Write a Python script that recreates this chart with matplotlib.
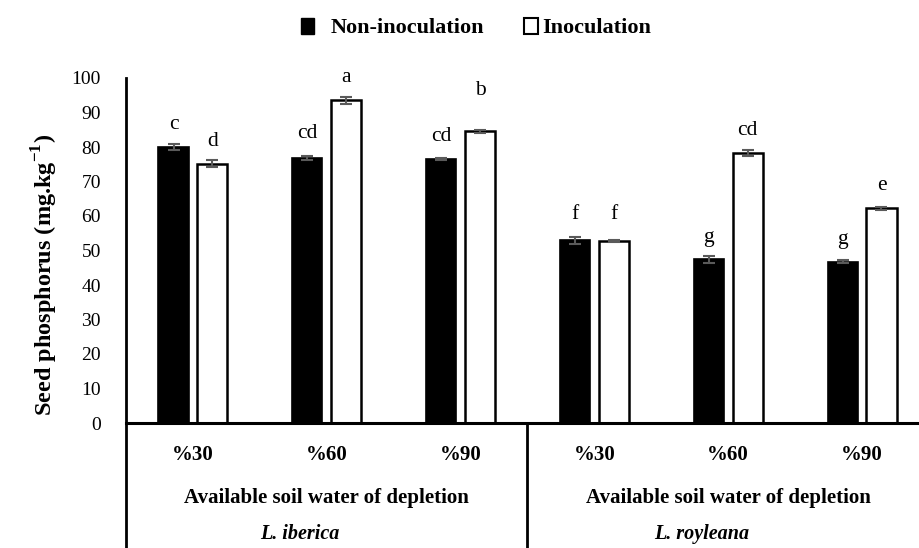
import matplotlib.pyplot as plt
from matplotlib.patches import Patch

plt.rcParams['font.family'] = ['Liberation Serif', 'DejaVu Serif']

# data
levels = ['%30', '%60', '%90', '%30', '%60', '%90']
species = ['L. iberica', 'L. royleana']
group_label = 'Available soil water of depletion'

non_inoc = [80.1, 76.8, 76.5, 53.0, 47.4, 46.8]
non_inoc_err = [0.9, 0.5, 0.4, 1.0, 1.0, 0.4]
inoc = [75.1, 93.6, 84.5, 52.8, 78.3, 62.2]
inoc_err = [1.0, 1.0, 0.5, 0.3, 0.9, 0.5]

non_letters = ['c', 'cd', 'cd', 'f', 'g', 'g']
inoc_letters = ['d', 'a', 'b', 'f', 'cd', 'e']
# extra lift of the letters above the bars (hand placed in the original)
non_lift = [6.5, 7.0, 6.5, 7.5, 6.5, 6.5]
inoc_lift = [6.5, 6.5, 12.0, 7.5, 6.5, 6.5]

fig = plt.figure(figsize=(9.2, 5.48), dpi=100)
ax = fig.add_axes([126 / 920, 1 - 423 / 548, 803 / 920, 345 / 548])

x = list(range(len(levels)))
w = 0.225
off = 0.145
xb = [i - off for i in x]
xw = [i + off for i in x]

ax.bar(xb, non_inoc, w, color='black', edgecolor='black', linewidth=1.2)
ax.bar(xw, inoc, w, color='white', edgecolor='black', linewidth=1.8)
ax.errorbar(xb, non_inoc, yerr=non_inoc_err, fmt='none', ecolor='#5a5a5a',
            elinewidth=1.5, capsize=4.5, capthick=1.5)
ax.errorbar(xw, inoc, yerr=inoc_err, fmt='none', ecolor='#5a5a5a',
            elinewidth=1.5, capsize=4.5, capthick=1.5)

for i in x:
    ax.text(xb[i], non_inoc[i] + non_lift[i], non_letters[i], ha='center',
            va='center', fontsize=15.5)
    ax.text(xw[i], inoc[i] + inoc_lift[i], inoc_letters[i], ha='center',
            va='center', fontsize=15.5)

ax.set_xlim(-0.5, 5.5)
ax.set_ylim(0, 100)
ax.set_yticks(range(0, 101, 10))
ax.tick_params(axis='y', length=0, pad=18, labelsize=14)
ax.set_xticks([])
for s in ['top', 'right']:
    ax.spines[s].set_visible(False)
ax.spines['left'].set_linewidth(2)
ax.spines['bottom'].set_linewidth(2.2)

# multi-level category axis
tr = ax.get_xaxis_transform()
for i in x:
    ax.text(i, -0.093, levels[i], transform=tr, ha='center', va='center',
            fontsize=15, fontweight='bold')
for k, sp in enumerate(species):
    c = 1 + 3 * k
    ax.text(c, -0.217, group_label, transform=tr, ha='center', va='center',
            fontsize=15, fontweight='bold')
    ax.text(c - 0.2, -0.322, sp, transform=tr, ha='center', va='center',
            fontsize=14.5, fontweight='bold', style='italic')
for xv in [-0.5, 2.5]:
    ax.plot([xv, xv], [0, -0.4], transform=tr, color='black', lw=2,
            clip_on=False)

fig.text(45 / 920, 1 - 275 / 548, 'Seed phosphorus (mg.kg$^{\\mathregular{-1}}$)',
         rotation=90, ha='center', va='center', fontsize=17.5, fontweight='bold')

# legend: two pieces, the second one has its box right against the text
leg_font = {'size': 16, 'weight': 'bold'}
leg1 = fig.legend(handles=[Patch(facecolor='black', edgecolor='black',
                                 label='Non-inoculation')],
                  loc='center left', bbox_to_anchor=(281 / 920, 1 - 28 / 548),
                  frameon=False, handlelength=0.6, handleheight=0.75,
                  handletextpad=0.75, prop=leg_font)
leg2 = fig.legend(handles=[Patch(facecolor='white', edgecolor='black',
                                 linewidth=1.5, label='Inoculation')],
                  loc='center left', bbox_to_anchor=(504 / 920, 1 - 28 / 548),
                  frameon=False, handlelength=0.65, handleheight=0.75,
                  handletextpad=0.15, prop=leg_font)

fig.savefig('out.png', dpi=100)
